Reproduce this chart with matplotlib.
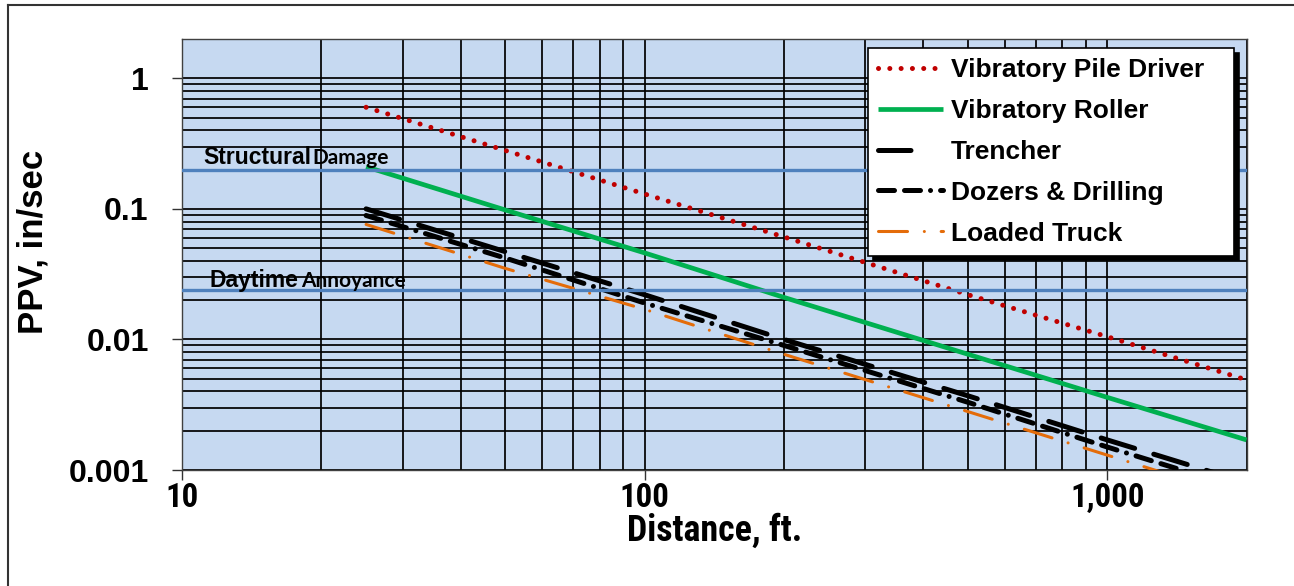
import matplotlib
matplotlib.use('Agg')
import matplotlib.pyplot as plt
from matplotlib.lines import Line2D
from matplotlib import font_manager as fm
from matplotlib.ticker import FixedLocator, FixedFormatter, LogLocator, NullFormatter

# ---------------- data ----------------
distance_ft = [25, 50, 100, 200, 500, 1000, 2000]
ppv_pile_driver = [0.60, 0.28, 0.13, 0.061, 0.022, 0.0105, 0.0049]
ppv_roller = [0.21, 0.098, 0.046, 0.021, 0.0077, 0.0036, 0.0017]
ppv_trencher = [0.10, 0.047, 0.022, 0.010, 0.0037, 0.0017, 0.0008]
ppv_dozers = [0.089, 0.042, 0.019, 0.0090, 0.0033, 0.0015, 0.0007]
ppv_truck = [0.076, 0.035, 0.017, 0.0077, 0.0028, 0.0013, 0.0006]
series_labels = ["Vibratory Pile Driver", "Vibratory Roller", "Trencher",
                 "Dozers & Drilling", "Loaded Truck"]

structural_damage_ppv = 0.2
daytime_annoyance_ppv = 0.024
threshold_words = [("Structural", "Damage"), ("Daytime", "Annoyance")]

x_ticks = [10, 100, 1000]
x_tick_labels = ["10", "100", "1,000"]
y_ticks = [0.001, 0.01, 0.1, 1]
y_tick_labels = ["0.001", "0.01", "0.1", "1"]
x_label = "Distance, ft."
y_label = "PPV, in/sec"

# ---------------- fonts ----------------
BOLD_FAM = ['Liberation Sans', 'DejaVu Sans']


def find_condensed_bold():
    for name in ['Liberation Sans Narrow', 'Roboto Condensed', 'Open Sans Condensed', 'DejaVu Sans']:
        for f in fm.fontManager.ttflist:
            if f.name != name:
                continue
            w = f.weight
            isbold = (w >= 700) if isinstance(w, (int, float)) else ('bold' in str(w).lower())
            fn = f.fname.lower()
            if isbold and ('narrow' in fn or 'condensed' in fn) and 'italic' not in fn and 'oblique' not in fn:
                return f.fname
    return None


cond_path = find_condensed_bold()


def narrow_props(size):
    if cond_path:
        return fm.FontProperties(fname=cond_path, size=size)
    return fm.FontProperties(family=BOLD_FAM, weight='bold', size=size)


# ---------------- figure ----------------
W, H = 1294, 586
fig = plt.figure(figsize=(W / 100, H / 100), dpi=100)
fig.patch.set_facecolor('white')

L, R, T, B = 182, 1246.5, 39, 470
ax = fig.add_axes([L / W, (H - B) / H, (R - L) / W, (B - T) / H])
ax.set_xscale('log')
ax.set_yscale('log')
ax.set_xlim(10, 2000)
ax.set_ylim(0.001, 2)
ax.set_facecolor('#C6D9F1')


def px2ax(x, y):
    return (x - L) / (R - L), (B - y) / (B - T)


ax.xaxis.set_major_locator(FixedLocator(x_ticks))
ax.xaxis.set_major_formatter(FixedFormatter(x_tick_labels))
ax.yaxis.set_major_locator(FixedLocator(y_ticks))
ax.yaxis.set_major_formatter(FixedFormatter(y_tick_labels))
ax.xaxis.set_minor_locator(LogLocator(base=10, subs=range(2, 10), numticks=20))
ax.yaxis.set_minor_locator(LogLocator(base=10, subs=range(2, 10), numticks=20))
ax.xaxis.set_minor_formatter(NullFormatter())
ax.yaxis.set_minor_formatter(NullFormatter())

ax.grid(which='both', color='black', lw=1.25, zorder=1)
ax.set_axisbelow(True)
ax.tick_params(which='minor', length=0)
ax.tick_params(which='major', length=7, width=1, color='#333333', direction='out')
ax.tick_params(axis='y', which='major', pad=17)
ax.tick_params(axis='x', which='major', pad=1.5)
for lab in ax.get_yticklabels():
    lab.set_fontsize(23)
    lab.set_fontweight('bold')
    lab.set_family(BOLD_FAM)

for s in ax.spines.values():
    s.set_color('#404040')
    s.set_linewidth(1.0)

# threshold lines
blue = '#4F81BD'
ax.axhline(structural_damage_ppv, color=blue, lw=2.4, zorder=4)
ax.axhline(daytime_annoyance_ppv, color=blue, lw=2.4, zorder=4)

# series
ax.plot(distance_ft, ppv_pile_driver, color='#C00000', lw=3.6,
        linestyle=(0, (0.01, 2.25)), dash_capstyle='round', label=series_labels[0], zorder=3)
ax.plot(distance_ft, ppv_roller, color='#00B050', lw=3.4,
        solid_capstyle='butt', label=series_labels[1], zorder=3)
ax.plot(distance_ft, ppv_trencher, color='black', lw=3.6,
        linestyle=(0, (7, 4)), dash_capstyle='round', label=series_labels[2], zorder=3)
ax.plot(distance_ft, ppv_dozers, color='black', lw=3.6,
        linestyle=(0, (3.2, 2, 3.2, 2, 0.01, 2)), dash_capstyle='round',
        label=series_labels[3], zorder=3)
ax.plot(distance_ft, ppv_truck, color='#E46C0A', lw=2.2,
        linestyle=(0, (9.5, 5.5, 0.01, 5.5)), dash_capstyle='round',
        label=series_labels[4], zorder=3)

# threshold labels
ax.text(*px2ax(203, 164), threshold_words[0][0], transform=ax.transAxes,
        fontsize=16.5, va='baseline', ha='left', zorder=6, fontweight='bold', family=BOLD_FAM)
ax.text(*px2ax(312, 164), threshold_words[0][1], transform=ax.transAxes,
        fontsize=15, va='baseline', ha='left', zorder=6, fontweight='bold',
        family=['Lato', 'DejaVu Sans'])
ax.text(*px2ax(210, 287), threshold_words[1][0], transform=ax.transAxes,
        fontsize=16.5, va='baseline', ha='left', zorder=6, fontweight='bold', family=BOLD_FAM)
ax.text(*px2ax(301, 287), threshold_words[1][1], transform=ax.transAxes,
        fontsize=15, va='baseline', ha='left', zorder=6, fontweight='bold',
        family=['Lato', 'DejaVu Sans'])

# legend (proxy handle for the trencher so it shows one long dash, as in the reference)
handles, labels = ax.get_legend_handles_labels()
handles[2] = Line2D([], [], color='black', lw=3.6, linestyle=(0, (6.5, 20)),
                    dash_capstyle='round')
lx0, ly0 = px2ax(868, 48)
lx1, _ = px2ax(1234, 48)
leg = ax.legend(handles, labels, loc='upper left',
                bbox_to_anchor=(lx0, 0.3, lx1 - lx0, ly0 - 0.3),
                mode='expand', borderaxespad=0, fancybox=False, framealpha=1,
                edgecolor='black', facecolor='white', borderpad=0.38,
                labelspacing=0.64, handlelength=2.45, handletextpad=0.3,
                prop=dict(size=19, weight='bold', family=BOLD_FAM),
                shadow={'ox': 3.5, 'oy': -3.5, 'facecolor': 'black',
                        'edgecolor': 'black', 'alpha': 1})
leg.get_frame().set_linewidth(1.2)
leg.set_zorder(10)

# axis labels
ax.set_ylabel(y_label, fontsize=25, fontweight='bold', family=BOLD_FAM)
ax.yaxis.set_label_coords(px2ax(50, 0)[0], 0.53)

# x tick labels and x label in a narrow bold face, sized to the reference widths
for lab in ax.get_xticklabels():
    lab.set_fontproperties(narrow_props(26))
ax.set_xlabel(x_label, fontproperties=narrow_props(26))
fig.canvas.draw()
r = fig.canvas.get_renderer()
w100 = ax.get_xticklabels()[1].get_window_extent(r).width
s_tick = max(16, min(30, 26 * 50.0 / w100))
wlab = ax.xaxis.label.get_window_extent(r).width
s_lab = max(16, min(30, 26 * 176.0 / wlab))
for lab in ax.get_xticklabels():
    lab.set_fontproperties(narrow_props(s_tick))
ax.xaxis.label.set_fontproperties(narrow_props(s_lab))
ax.xaxis.label.set_va('center')
ax.xaxis.set_label_coords(0.5, px2ax(0, 531)[1])

# outer border (top and left visible)
bc = '#333333'
fig.add_artist(Line2D([8 / W, 8 / W], [0, 1 - 5 / H], transform=fig.transFigure, color=bc, lw=1.5))
fig.add_artist(Line2D([8 / W, 1293 / W], [1 - 5 / H, 1 - 5 / H], transform=fig.transFigure, color=bc, lw=1.5))

fig.savefig('out.png', dpi=100, facecolor='white')
